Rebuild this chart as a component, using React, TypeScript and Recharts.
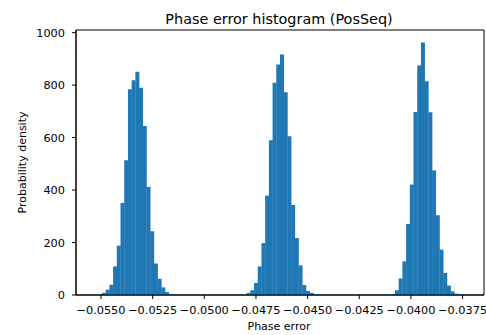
import React from "react";
import { BarChart, Bar, XAxis, YAxis, ReferenceArea } from "recharts";

// Histogram of phase error (PosSeq): 100 bins
const firstEdge = -0.055312;
const binWidth = 0.00017951;
const marginBins = 5; // matplotlib 5% x-margin on each side

const densities: number[] = [
  1, 0, 8, 20, 39, 109, 188, 351, 514, 784,
  819, 851, 790, 644, 412, 243, 120, 62, 29, 11,
  4, 2, 0, 0, 0, 0, 0, 0, 0, 0,
  0, 0, 0, 0, 0, 0, 0, 0, 0, 0,
  1, 8, 18, 46, 109, 198, 379, 590, 809, 879,
  917, 773, 605, 343, 217, 113, 38, 15, 8, 3,
  2, 1, 0, 0, 0, 0, 0, 0, 0, 0,
  0, 0, 0, 0, 0, 0, 0, 0, 0, 1,
  4, 18, 63, 128, 271, 421, 698, 875, 962, 815,
  697, 475, 304, 173, 84, 36, 14, 5, 3, 1,
];

const xTicks: number[] = [-0.055, -0.0525, -0.05, -0.0475, -0.045, -0.0425, -0.04, -0.0375];
const yTicks: number[] = [0, 200, 400, 600, 800, 1000];

const title = "Phase error histogram (PosSeq)";
const xLabel = "Phase error";
const yLabel = "Probability density";

const data = densities.map((d, i) => ({
  center: firstEdge + (i + 0.5) * binWidth,
  density: d,
}));

const xDomain: [number, number] = [
  firstEdge - marginBins * binWidth,
  firstEdge + (densities.length + marginBins) * binWidth,
];
const yMax = Math.max(...densities) * 1.05;

const font = "'DejaVu Sans', sans-serif";
const tickStyle = { fontSize: 11.3, fill: "#000", fontFamily: font };
const fmt = (v: number) => (v < 0 ? "\u2212" : "") + Math.abs(v).toFixed(4);

export default function App() {
  return (
    <div style={{ position: "absolute", left: 0, top: 0, width: 486, height: 335, background: "#fff" }}>
      <BarChart
        width={486}
        height={335}
        data={data}
        margin={{ top: 30, right: 2, bottom: 0, left: 0 }}
        barCategoryGap={0}
        barGap={0}
      >
        <XAxis
          dataKey="center"
          type="number"
          domain={xDomain}
          allowDataOverflow
          ticks={xTicks}
          interval={0}
          tickFormatter={fmt}
          height={40}
          tick={tickStyle}
          tickSize={4}
          tickMargin={7}
          axisLine={{ stroke: "#000" }}
          tickLine={{ stroke: "#000" }}
        />
        <YAxis
          domain={[0, yMax]}
          allowDataOverflow
          ticks={yTicks}
          interval={0}
          width={76}
          tick={tickStyle}
          tickSize={4}
          tickMargin={7}
          axisLine={{ stroke: "#000" }}
          tickLine={{ stroke: "#000" }}
        />
        <Bar dataKey="density" fill="#1f77b4" isAnimationActive={false} />
        <ReferenceArea
          x1={xDomain[0]}
          x2={xDomain[1]}
          y1={0}
          y2={yMax}
          fill="none"
          fillOpacity={0}
          stroke="#000"
          strokeOpacity={1}
          ifOverflow="visible"
        />
      </BarChart>
      <svg
        width={486}
        height={335}
        style={{ position: "absolute", left: 0, top: 0, pointerEvents: "none" }}
      >
        <text x={279} y={23.5} textAnchor="middle" fontSize={14.4} fontFamily={font} fill="#000">
          {title}
        </text>
        <text x={279} y={330} textAnchor="middle" fontSize={11} fontFamily={font} fill="#000">
          {xLabel}
        </text>
        <text
          x={25.5}
          y={162.5}
          textAnchor="middle"
          fontSize={11}
          fontFamily={font}
          fill="#000"
          transform="rotate(-90 25.5 162.5)"
        >
          {yLabel}
        </text>
      </svg>
    </div>
  );
}
